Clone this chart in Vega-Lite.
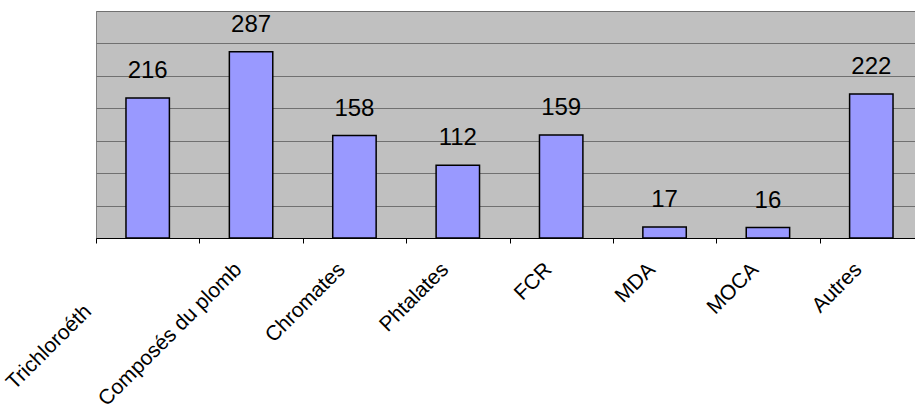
{
  "$schema": "https://vega.github.io/schema/vega-lite/v6.json",
  "width": 827,
  "height": 227,
  "autosize": "none",
  "padding": {"left": 96, "top": 11, "right": -8, "bottom": 174},
  "background": "white",
  "config": {
    "font": "Liberation Sans",
    "view": {"fill": "#c0c0c0", "stroke": "#808080", "strokeWidth": 1}
  },
  "data": {
    "values": [
      {"cat": "Trichloroéth", "n": 216},
      {"cat": "Composés du plomb", "n": 287},
      {"cat": "Chromates", "n": 158},
      {"cat": "Phtalates", "n": 112},
      {"cat": "FCR", "n": 159},
      {"cat": "MDA", "n": 17},
      {"cat": "MOCA", "n": 16},
      {"cat": "Autres", "n": 222}
    ]
  },
  "encoding": {
    "x": {
      "field": "cat", "type": "nominal", "sort": null,
      "scale": {"paddingInner": 0, "paddingOuter": 0},
      "axis": {
        "title": null, "labelAngle": -45, "labelAlign": "right", "labelBaseline": "middle",
        "labelFontSize": 21, "labelColor": "black", "labelLimit": 0,
        "labelPadding": {"condition": {"test": "datum.value === 'Trichloroéth'", "value": 65}, "value": 23},
        "labelOffset": {"condition": {"test": "datum.value === 'Trichloroéth'", "value": -60}, "value": -13},
        "tickBand": "extent", "tickColor": "black", "tickSize": 5,
        "domainColor": "black", "domainWidth": 1, "grid": false
      }
    },
    "y": {
      "field": "n", "type": "quantitative",
      "scale": {"domain": [0, 350], "nice": false},
      "axis": {
        "title": null, "labels": false, "ticks": false, "domain": false,
        "values": [0, 50, 100, 150, 200, 250, 300, 350],
        "grid": true, "gridColor": "#707070", "gridWidth": 1, "gridOpacity": 1
      }
    }
  },
  "layer": [
    {"mark": {"type": "bar", "width": {"band": 0.42}, "fill": "#9999ff", "stroke": "black", "strokeWidth": 1.5}},
    {"mark": {"type": "text", "fontSize": 24, "color": "black", "baseline": "alphabetic", "dy": -20}, "encoding": {"text": {"field": "n", "type": "quantitative"}}}
  ]
}
